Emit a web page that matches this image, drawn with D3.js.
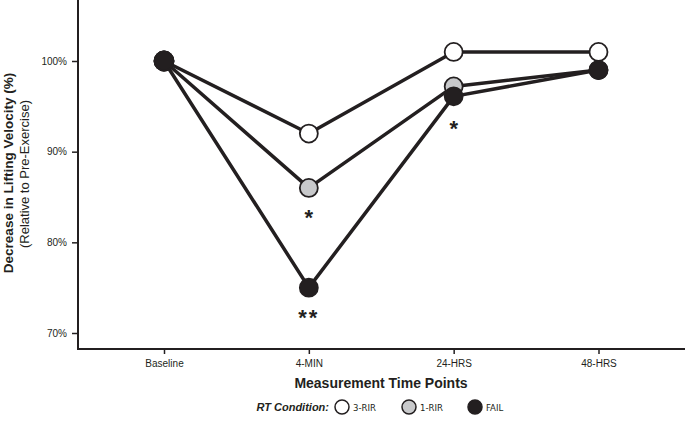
<!DOCTYPE html>
<html><head><meta charset="utf-8">
<script src="https://cdn.jsdelivr.net/npm/d3@7"></script>
<style>body{margin:0;background:#fff}svg{display:block}text{font-family:"Liberation Sans",Arial,sans-serif;fill:#231f20}</style>
</head><body><svg id="c" width="685" height="426"></svg>
<script>
const categories = ["Baseline","4-MIN","24-HRS","48-HRS"];
const rir3 = [100, 92, 101, 101];
const rir1 = [100, 86, 97.2, 99];
const fail = [100, 75, 96.1, 99];
const yTicks = [70, 80, 90, 100];
const seriesNames = ["3-RIR","1-RIR","FAIL"];
const seriesFill = ["#ffffff","#c8c9cb","#231f20"];
const annotations = [{cat:"4-MIN", v:86, text:"*", dy:37},{cat:"4-MIN", v:75, text:"**", dy:37},{cat:"24-HRS", v:96.1, text:"*", dy:40}];

const svg = d3.select("#c");
const x = d3.scalePoint().domain(categories).range([164, 598.5]);
const y = d3.scaleLinear().domain([70,100]).range([333, 61]);
const ink = "#231f20";

// axes
const yAx = svg.append("g").attr("transform","translate(78,0)")
  .call(d3.axisLeft(y).tickValues(yTicks).tickFormat(d=>d+"%").tickSize(6).tickSizeOuter(0));
yAx.select(".domain").remove();
yAx.selectAll(".tick line").attr("stroke",ink).attr("stroke-width",1.5);
yAx.selectAll(".tick text").attr("font-size",10).attr("x",-11).style("fill",ink);
svg.append("line").attr("x1",78).attr("x2",78).attr("y1",0).attr("y2",349).attr("stroke",ink).attr("stroke-width",2);

const xAx = svg.append("g").attr("transform","translate(0,349)")
  .call(d3.axisBottom(x).tickSize(5).tickSizeOuter(0));
xAx.select(".domain").remove();
xAx.selectAll(".tick line").attr("stroke",ink).attr("stroke-width",1.5);
xAx.selectAll(".tick text").attr("font-size",10).attr("y",11).style("fill",ink);
svg.append("line").attr("x1",77).attr("x2",685).attr("y1",349).attr("y2",349).attr("stroke",ink).attr("stroke-width",2);

// axis titles
svg.append("text").attr("transform","translate(13,173) rotate(-90)").attr("text-anchor","middle")
  .attr("font-size",13.5).attr("font-weight","bold").text("Decrease in Lifting Velocity (%)");
svg.append("text").attr("transform","translate(29,174) rotate(-90)").attr("text-anchor","middle")
  .attr("font-size",13).text("(Relative to Pre-Exercise)");
svg.append("text").attr("x",381).attr("y",388).attr("text-anchor","middle")
  .attr("font-size",14).attr("font-weight","bold").text("Measurement Time Points");

// series
const series = [rir3, rir1, fail];
const line = d3.line().x((d,i)=>x(categories[i])).y(d=>y(d));
series.forEach(s=>{
  svg.append("path").attr("d",line(s)).attr("fill","none").attr("stroke",ink).attr("stroke-width",3.5).attr("stroke-linejoin","round");
});
series.forEach((s,k)=>{
  svg.selectAll(null).data(s).enter().append("circle")
    .attr("cx",(d,i)=>x(categories[i])).attr("cy",d=>y(d))
    .attr("r",(d,i)=> i===0 ? 9.5 : 9)
    .attr("fill",seriesFill[k]).attr("stroke",ink).attr("stroke-width",1.8);
});

// annotations
annotations.forEach(a=>{
  svg.append("text").attr("x",x(a.cat)).attr("y",y(a.v)+a.dy).attr("text-anchor","middle")
    .attr("font-size",22).attr("font-weight","bold").attr("letter-spacing",a.text.length>1?2:0).text(a.text);
});

// legend
const lg = svg.append("g").attr("transform","translate(0,407)");
lg.append("text").attr("x",329).attr("y",4).attr("text-anchor","end").attr("font-size",11)
  .attr("font-weight","bold").attr("font-style","italic").text("RT Condition:");
const lx = [342, 409, 475];
seriesNames.forEach((n,k)=>{
  lg.append("circle").attr("cx",lx[k]).attr("cy",0).attr("r",7).attr("fill",seriesFill[k]).attr("stroke",ink).attr("stroke-width",1.5);
  lg.append("text").attr("x",lx[k]+11).attr("y",3.5).attr("font-size",9.5)
    .style("font-family","'DejaVu Sans Condensed','Liberation Sans Narrow',sans-serif").text(n);
});
</script></body></html>
